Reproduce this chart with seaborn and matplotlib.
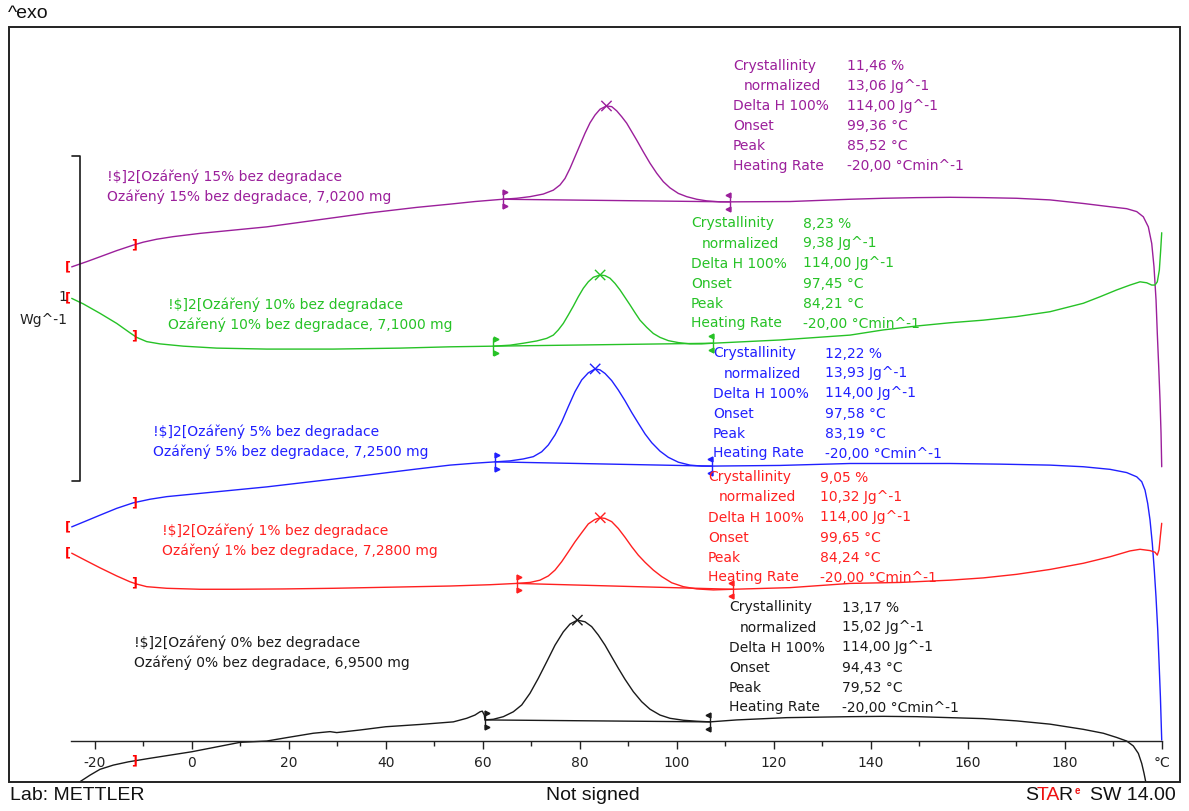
import numpy as np
import pandas as pd
import matplotlib
matplotlib.use("Agg")
import matplotlib.pyplot as plt
import seaborn as sns
from matplotlib.patches import Rectangle
from matplotlib.font_manager import FontProperties

# ---------------- data (temperature in degC, displayed heat flow in W/g) ----------------
SAMPLES = ["15%", "10%", "5%", "1%", "0%"]
MASSES = [7.0200, 7.1000, 7.2500, 7.2800, 6.9500]
CRYSTALLINITY = [11.46, 8.23, 12.22, 9.05, 13.17]
NORMALIZED = [13.06, 9.38, 13.93, 10.32, 15.02]
DELTA_H_100 = [114.00, 114.00, 114.00, 114.00, 114.00]
ONSET = [99.36, 97.45, 97.58, 99.65, 94.43]
PEAK = [85.52, 84.21, 83.19, 84.24, 79.52]
HEATING_RATE = [-20.00, -20.00, -20.00, -20.00, -20.00]
LIMIT_START = [64.12, 62.19, 62.54, 67.01, 60.47]
LIMIT_END = [110.99, 107.42, 107.22, 111.55, 106.87]
EVAL_LEFT = -25.5
EVAL_RIGHT = -11.8

T_15 = [-24.74, -21.65, -18.91, -15.46, -12.04, -9.98, -7.22, -3.79, 1.71, 8.58, 15.46, 25.77,
        36.08, 46.39, 53.26, 58.41,
        64.12, 67.01, 69.75, 72.49, 74.56, 75.94, 76.97, 78.00, 79.03, 80.06, 81.09, 82.12, 83.15,
        84.19, 85.52, 86.60, 87.63, 88.66, 89.69, 90.72, 91.75, 93.11, 94.49, 95.88, 97.24, 98.62,
        100.33, 102.06, 104.12, 106.19, 108.93, 110.99,
        123.36, 135.73, 142.60, 149.48, 156.35, 163.22, 170.10, 176.97, 183.84, 189.34, 192.78,
        194.85, 196.21, 197.24, 197.94, 198.41, 198.83, 199.09, 199.38, 199.65, 199.86, 200.0]
HF_15 = [1.459, 1.475, 1.490, 1.509, 1.526, 1.535, 1.544, 1.552, 1.562, 1.572, 1.582, 1.603,
         1.624, 1.642, 1.652, 1.660,
         1.667, 1.670, 1.675, 1.683, 1.695, 1.711, 1.731, 1.762, 1.798, 1.834, 1.870, 1.902, 1.926,
         1.944, 1.954, 1.952, 1.939, 1.921, 1.901, 1.875, 1.849, 1.813, 1.778, 1.747, 1.721, 1.702,
         1.685, 1.675, 1.667, 1.662, 1.659, 1.659,
         1.660, 1.667, 1.670, 1.672, 1.673, 1.672, 1.670, 1.665, 1.654, 1.644, 1.638,
         1.629, 1.613, 1.582, 1.531, 1.459, 1.357, 1.254, 1.152, 1.049, 0.947, 0.844]

T_10 = [-24.74, -22.35, -18.91, -15.46, -12.72, -11.34, -9.28, -6.54, -1.73, 5.15, 15.46, 29.20,
        42.95, 53.26,
        62.19, 65.63, 68.37, 71.13, 73.20, 74.56, 75.59, 76.62, 77.65, 78.68, 79.71, 80.74, 81.77,
        82.80, 84.21, 85.22, 86.25, 87.28, 88.31, 89.34, 90.37, 91.40, 92.43, 93.81, 95.18, 96.56,
        98.27, 100.33, 102.74, 105.15, 107.42,
        121.30, 135.73, 142.60, 149.48, 156.35, 163.22, 170.10, 176.97, 180.41, 183.84, 187.28,
        190.72, 193.46, 195.53, 196.91, 197.94, 198.62, 199.09, 199.51, 199.79, 200.0]
HF_10 = [1.362, 1.345, 1.316, 1.285, 1.256, 1.242, 1.229, 1.222, 1.215, 1.209, 1.206, 1.206,
         1.209, 1.213,
         1.215, 1.218, 1.224, 1.231, 1.239, 1.249, 1.265, 1.285, 1.311, 1.338, 1.367, 1.393, 1.413,
         1.427, 1.434, 1.432, 1.424, 1.408, 1.388, 1.365, 1.342, 1.318, 1.295, 1.273, 1.254, 1.242,
         1.232, 1.226, 1.222, 1.222, 1.224,
         1.234, 1.249, 1.265, 1.277, 1.287, 1.295, 1.306, 1.321, 1.334, 1.347, 1.367,
         1.388, 1.403, 1.413, 1.410, 1.403, 1.403, 1.413, 1.449, 1.511, 1.564]

T_5 = [-24.74, -21.65, -18.91, -15.46, -12.04, -8.60, -5.15, 1.71, 8.58, 15.46, 25.77, 36.08,
       46.39, 53.26, 58.41,
       62.54, 65.63, 68.37, 70.43, 72.16, 73.53, 74.91, 76.29, 77.65, 79.03, 80.41, 81.77, 83.19,
       84.19, 85.22, 86.60, 87.96, 89.34, 90.72, 92.08, 93.47, 94.85, 96.56, 98.27, 100.33, 102.74,
       105.15, 107.22,
       121.30, 135.73, 146.04, 156.35, 166.66, 176.97, 183.84, 189.34, 192.78, 194.85, 195.88,
       196.56, 197.11, 197.59, 198.06, 198.47, 198.82, 199.18, 199.46, 199.73, 200.0]
HF_5 = [0.659, 0.678, 0.695, 0.716, 0.733, 0.744, 0.752, 0.762, 0.772, 0.782, 0.800, 0.818,
        0.837, 0.849, 0.855,
        0.859, 0.862, 0.868, 0.875, 0.890, 0.911, 0.942, 0.982, 1.029, 1.075, 1.111, 1.133, 1.145,
        1.142, 1.131, 1.109, 1.080, 1.047, 1.011, 0.978, 0.945, 0.918, 0.892, 0.873, 0.858, 0.849,
        0.846, 0.846,
        0.848, 0.854, 0.854, 0.854, 0.852, 0.849, 0.844, 0.836, 0.826, 0.813, 0.798,
        0.772, 0.731, 0.680, 0.608, 0.526, 0.444, 0.342, 0.239, 0.136, 0.003]

T_1 = [-24.74, -21.65, -18.91, -15.46, -12.72, -11.34, -9.28, -5.15, 1.71, 8.58, 18.89, 29.20,
       42.95, 53.26, 61.51,
       67.01, 69.75, 71.81, 73.53, 74.91, 76.29, 77.65, 79.03, 80.41, 81.77, 83.15, 84.24, 85.22,
       86.60, 87.96, 89.34, 90.72, 92.08, 93.47, 95.18, 96.91, 98.97, 101.36, 104.12, 107.55, 111.55,
       123.36, 135.73, 146.04, 156.35, 163.22, 170.10, 176.97, 183.84, 189.34, 193.46, 195.53,
       197.59, 198.62, 199.09, 199.44, 199.71, 200.0]
HF_1 = [0.578, 0.554, 0.533, 0.508, 0.490, 0.483, 0.475, 0.470, 0.467, 0.467, 0.468, 0.470,
        0.474, 0.477, 0.481,
        0.485, 0.488, 0.495, 0.508, 0.526, 0.552, 0.582, 0.613, 0.641, 0.668, 0.682, 0.687, 0.685,
        0.675, 0.654, 0.627, 0.598, 0.572, 0.550, 0.526, 0.506, 0.487, 0.475, 0.468, 0.465, 0.467,
        0.472, 0.485, 0.488, 0.495, 0.502, 0.513, 0.528, 0.547, 0.567, 0.585, 0.590,
        0.586, 0.581, 0.572, 0.588, 0.629, 0.670]

T_0 = [-23.03, -20.97, -18.91, -16.16, -13.07, -8.60, 0.0, 9.96, 15.46, 19.79, 25.07, 28.52,
       29.90, 34.70, 40.0, 47.07, 53.94, 56.70, 58.41, 59.44, 59.92, 60.33,
       60.47, 62.19, 64.25, 66.31, 68.04, 69.75, 71.46, 73.20, 74.91, 76.62, 78.00, 79.52, 81.09,
       82.47, 83.84, 85.22, 86.60, 87.96, 89.34, 91.05, 92.78, 94.49, 96.56, 98.62, 101.36, 104.12,
       106.87,
       112.37, 122.68, 135.73, 142.60, 149.48, 156.35, 163.22, 170.10, 176.97, 183.84, 187.96,
       190.72, 192.78, 194.14, 195.18, 195.88, 196.35, 196.70, 196.76]
HF_0 = [-0.125, -0.105, -0.087, -0.074, -0.064, -0.053, -0.033, -0.004, 0.0, 0.011, 0.024, 0.029,
        0.026, 0.034, 0.044, 0.051, 0.059, 0.070, 0.080, 0.090, 0.092, 0.080,
        0.065, 0.067, 0.075, 0.090, 0.111, 0.147, 0.193, 0.244, 0.295, 0.336, 0.360, 0.372, 0.367,
        0.352, 0.326, 0.295, 0.259, 0.224, 0.190, 0.152, 0.121, 0.098, 0.080, 0.070, 0.064, 0.061,
        0.059,
        0.065, 0.072, 0.075, 0.076, 0.075, 0.072, 0.069, 0.062, 0.052, 0.036, 0.024,
        0.011, 0.0, -0.015, -0.038, -0.069, -0.099, -0.125, -0.141]

X_TICKS = [-20, 0, 20, 40, 60, 80, 100, 120, 140, 160, 180, 200]
X_TICK_LABELS = ["-20", "0", "20", "40", "60", "80", "100", "120", "140", "160", "180", "°C"]
SCALE_BAR = (0.8, 1.8)  # 1 W/g

COLORS = {"15%": "#9b1f9b", "10%": "#26c226", "5%": "#2020ff", "1%": "#ff2020", "0%": "#1a1a1a"}
CURVES = {"15%": (T_15, HF_15), "10%": (T_10, HF_10), "5%": (T_5, HF_5),
          "1%": (T_1, HF_1), "0%": (T_0, HF_0)}

# ---------------- figure ----------------
sns.set_style("white")
plt.rcParams["font.family"] = ["DejaVu Sans"]
W, H = 1189, 811
fig = plt.figure(figsize=(W / 100, H / 100), dpi=100)
ax = fig.add_axes([9 / W, 1 - 782 / H, (1180 - 9) / W, (782 - 27) / H])
ax.set_xlim(-37.67, 203.77)
ax.set_ylim(-0.126, 2.197)
ax.set_facecolor("white")


def fig_text(x, y, s, **kw):
    kw.setdefault("va", "center")
    return fig.text(x / W, 1 - y / H, s, **kw)


def fmt(v):
    return f"{v:.2f}".replace(".", ",")


def fmt4(v):
    return f"{v:.4f}".replace(".", ",")


def hf_at(name, t):
    T, HF = CURVES[name]
    T = np.asarray(T)
    HF = np.asarray(HF)
    m = T < 190
    return float(np.interp(t, T[m], HF[m]))


rows = []
for name, (T, HF) in CURVES.items():
    for i, (t, h) in enumerate(zip(T, HF)):
        rows.append({"sample": name, "T": t, "hf": h, "i": i})
df = pd.DataFrame(rows)

sns.lineplot(data=df, x="T", y="hf", hue="sample", hue_order=SAMPLES, palette=COLORS,
             sort=False, estimator=None, legend=False, linewidth=1.0, ax=ax)

# baselines
brow = []
for k, name in enumerate(SAMPLES):
    for t in (LIMIT_START[k], LIMIT_END[k]):
        brow.append({"sample": name, "T": t, "hf": hf_at(name, t)})
bdf = pd.DataFrame(brow)
sns.lineplot(data=bdf, x="T", y="hf", hue="sample", hue_order=SAMPLES, palette=COLORS,
             sort=False, estimator=None, legend=False, linewidth=1.0, ax=ax)

# peaks
pdf = pd.DataFrame({"sample": SAMPLES, "T": PEAK,
                    "hf": [hf_at(n, p) for n, p in zip(SAMPLES, PEAK)]})
sns.scatterplot(data=pdf, x="T", y="hf", hue="sample", hue_order=SAMPLES, palette=COLORS,
                marker="x", s=55, linewidth=1.0, legend=False, ax=ax, zorder=5)

# integration limit markers
d = 0.026
for k, name in enumerate(SAMPLES):
    c = COLORS[name]
    for t, mk, dx in ((LIMIT_START[k], ">", 0.45), (LIMIT_END[k], "<", -0.45)):
        y = hf_at(name, t)
        ax.plot([t, t], [y - d, y + d], color=c, lw=1.0)
        ax.plot([t + dx, t + dx], [y - d * 0.8, y + d * 0.8], ls="none", marker=mk,
                ms=3.5, color=c, mec=c)

# evaluation range brackets
for name in SAMPLES:
    T, HF = CURVES[name]
    if name != "0%":
        ax.text(EVAL_LEFT, HF[0], "[", color="#ff0000", fontsize=9, fontweight="bold",
                ha="center", va="center", zorder=6)
    ax.text(EVAL_RIGHT, hf_at(name, EVAL_RIGHT), "]", color="#ff0000", fontsize=9,
            fontweight="bold", ha="center", va="center", zorder=6)

# scale bar
ax.plot([-24.74, -23.0, -23.0, -24.74], [SCALE_BAR[1], SCALE_BAR[1], SCALE_BAR[0], SCALE_BAR[0]],
        color="#1a1a1a", lw=1.2)

# x axis inside frame
for s in ("top", "left", "right"):
    ax.spines[s].set_visible(False)
ax.spines["bottom"].set_position(("data", 0))
ax.spines["bottom"].set_bounds(-24.9, 200)
ax.spines["bottom"].set_color("#222222")
ax.spines["bottom"].set_linewidth(1.0)
ax.set_xticks(X_TICKS)
ax.set_xticklabels(X_TICK_LABELS)
ax.set_xticks(list(range(-10, 200, 20)), minor=True)
ax.tick_params(axis="x", which="major", direction="out", length=5.5, width=1.0,
               color="#222222", pad=5, labelsize=10, labelcolor="#222222", bottom=True)
ax.tick_params(axis="x", which="minor", direction="out", length=3.5, width=1.0,
               color="#222222", bottom=True)
ax.set_yticks([])
ax.set_xlabel("")
ax.set_ylabel("")
ax.add_patch(Rectangle((0, 0), 1, 1, transform=ax.transAxes, fill=False, lw=1.4,
                       ec="#222222", clip_on=False, zorder=10))

# scale bar labels
fig_text(67, 297, "1", ha="right", fontsize=10, color="#222222")
fig_text(68, 320, "Wg^-1", ha="right", fontsize=10, color="#222222")

# sample labels
LABEL_POS = [(107, 177), (168, 305), (153, 432), (162, 531), (134, 643)]
for k, name in enumerate(SAMPLES):
    x, y = LABEL_POS[k]
    c = COLORS[name]
    fig_text(x, y, f"!$]2[Ozářený {name} bez degradace", color=c, fontsize=10)
    fig_text(x, y + 20, f"Ozářený {name} bez degradace, {fmt4(MASSES[k])} mg", color=c, fontsize=10)

# result blocks
BLOCK_POS = [(733, 847, 66), (691, 803, 223.5), (713, 825, 353.5), (708, 820, 477.5), (729, 842, 607.5)]
for k, name in enumerate(SAMPLES):
    lx, vx, y0 = BLOCK_POS[k]
    c = COLORS[name]
    labels = ["Crystallinity", "normalized", "Delta H 100%", "Onset", "Peak", "Heating Rate"]
    values = [f"{fmt(CRYSTALLINITY[k])} %", f"{fmt(NORMALIZED[k])} Jg^-1",
              f"{fmt(DELTA_H_100[k])} Jg^-1", f"{fmt(ONSET[k])} °C", f"{fmt(PEAK[k])} °C",
              f"{fmt(HEATING_RATE[k])} °Cmin^-1"]
    for j, (lab, val) in enumerate(zip(labels, values)):
        y = y0 + 20 * j
        fig_text(lx + (11 if j == 1 else 0), y, lab, color=c, fontsize=10)
        fig_text(vx, y, val, color=c, fontsize=10)

# header / footer
FOOT = ["Liberation Sans", "DejaVu Sans"]
fig_text(8, 14, "^exo", family=FOOT, fontsize=14, color="#111111")
fig_text(10, 796, "Lab: METTLER", family=FOOT, fontsize=14, color="#111111")
fig_text(593, 796, "Not signed", family=FOOT, fontsize=14, color="#111111", ha="center")

# STARe logo: separate pieces placed by measured ink widths
renderer = fig.canvas.get_renderer()
fp = FontProperties(family=FOOT, size=14)


def ink_w(s):
    return renderer.get_text_width_height_descent(s, fp, ismath=False)[0]


x0 = 1025
fig_text(x0, 796, "S", family=FOOT, fontsize=14, color="#111111")
fig_text(x0 + ink_w("ST") - ink_w("T") - 1.5, 796, "TA", family=FOOT, fontsize=14, color="#ee1111")
fig_text(x0 + ink_w("STAR") - ink_w("R") - 2.5, 796, "R", family=FOOT, fontsize=14, color="#111111")
fig_text(x0 + ink_w("STAR") - 1, 791, "e", family=FOOT, fontsize=7, fontweight="bold",
         color="#ee1111")
fig_text(1176, 796, "SW 14.00", family=FOOT, fontsize=14, color="#111111", ha="right")

fig.savefig("out.png", dpi=100, facecolor="white")
